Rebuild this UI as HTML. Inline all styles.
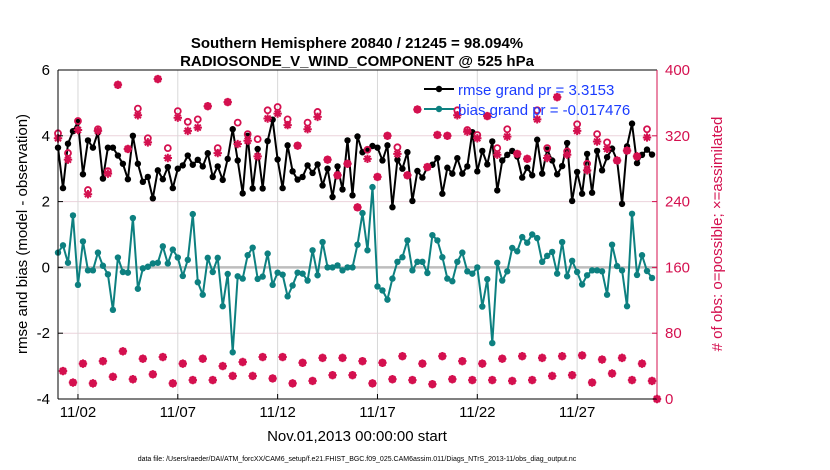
<!DOCTYPE html>
<html><head><meta charset="utf-8"><style>
html,body{margin:0;padding:0;background:#fff;}
svg{display:block;font-family:"Liberation Sans",Arial,sans-serif;}
</style></head><body>
<svg id="chart" width="830" height="470" viewBox="0 0 830 470" xmlns="http://www.w3.org/2000/svg">
<text x="357" y="48" text-anchor="middle" font-size="15" font-weight="bold">Southern Hemisphere 20840 / 21245 = 98.094%</text>
<text x="357" y="66" text-anchor="middle" font-size="15" font-weight="bold">RADIOSONDE_V_WIND_COMPONENT @ 525 hPa</text>
<g id="grid"></g>
<g id="marks"></g>
<g id="axes"></g>
<g>
<line x1="424" y1="89" x2="454" y2="89" stroke="#000" stroke-width="2"/><circle cx="439" cy="89" r="3.2" fill="#000"/>
<text x="458" y="95" font-size="15" fill="#1a3cff">rmse grand pr = 3.3153</text>
<line x1="424" y1="109" x2="454" y2="109" stroke="#0d8080" stroke-width="2"/><circle cx="439" cy="109" r="3.2" fill="#0d8080"/>
<text x="458" y="115" font-size="15" fill="#1a3cff">bias grand pr = -0.017476</text>
</g>
<text transform="translate(27,234) rotate(-90)" text-anchor="middle" font-size="15">rmse and bias (model - observation)</text>
<text transform="translate(722,234) rotate(-90)" text-anchor="middle" font-size="15" fill="#d4104f"># of obs: o=possible; ×=assimilated</text>
<text x="357" y="441" text-anchor="middle" font-size="15">Nov.01,2013 00:00:00 start</text>
<text x="357" y="461" text-anchor="middle" font-size="7">data file: /Users/raeder/DAI/ATM_forcXX/CAM6_setup/f.e21.FHIST_BGC.f09_025.CAM6assim.011/Diags_NTrS_2013-11/obs_diag_output.nc</text>
</svg>
<script>
const rmse=[3.64,2.41,3.76,4.14,4.42,2.83,3.86,3.64,4.1,2.7,3.64,3.64,3.4,3.15,2.68,4.0,3.15,2.6,2.75,2.1,2.95,2.68,3.05,2.41,3.0,3.1,3.4,3.12,3.27,3.07,3.47,2.75,3.07,2.66,3.3,4.2,3.25,2.25,4.0,2.4,3.6,2.4,
3.84,4.49,3.28,2.41,3.71,2.92,2.67,2.75,3.1,2.87,3.13,2.49,3.0,2.14,3.07,2.37,3.86,2.19,3.98,3.5,3.57,3.69,3.64,3.25,3.71,1.83,3.27,3.0,3.5,2.02,2.93,2.73,3.05,3.12,3.32,2.24,3.03,2.85,3.32,2.85,
3.07,4.11,2.92,3.54,3.13,3.83,2.34,3.25,3.42,3.54,3.37,2.73,3.03,2.8,3.88,2.85,3.58,3.25,2.83,3.08,3.78,2.02,2.9,2.24,3.45,2.27,3.54,2.95,3.35,3.61,3.25,1.93,3.68,4.37,3.17,3.42,3.58,3.43];
const bias=[0.45,0.67,0.14,1.58,-0.53,0.79,-0.09,-0.09,0.45,0.05,-0.21,-1.29,0.3,-0.14,-0.16,1.5,-0.65,-0.03,0.02,0.12,0.14,0.64,0.12,0.54,0.3,-0.26,0.23,1.62,-0.45,-0.83,0.29,-0.14,0.29,-1.18,-0.2,-2.58,-0.27,-0.34,0.37,0.6,-0.35,-0.28,
0.42,-0.53,-0.16,-0.22,-0.88,-0.55,-0.16,-0.19,-0.4,0.52,-0.24,0.77,0.0,0.0,0.06,-0.09,0.0,0.0,0.69,1.65,0.52,2.44,-0.58,-0.7,-0.98,-0.34,0.17,0.31,0.82,-0.09,0.17,0.17,-0.17,0.98,0.82,0.31,-0.34,-0.42,0.17,0.45,
-0.12,-0.19,0.0,-1.19,-0.36,-2.3,0.14,-0.4,-0.12,0.59,0.49,0.92,0.75,1.0,0.89,0.17,0.35,0.47,-0.19,0.77,-0.27,0.2,-0.14,-0.52,-0.24,-0.09,-0.09,-0.12,-0.83,0.69,0.04,-0.09,-1.18,1.63,-0.23,0.37,-0.11,-0.32];
const obsAssim=[317,34,291,20,327,43,249,19,326,46,274,27,382,58,304,24,345,49,312,30,389,51,293,19,342,43,326,23,330,49,356,23,299,40,361,28,310,45,314,28,295,51,341,25,347,51,333,19,308,44,328,22,343,50,291,29,272,50,286,29,233,46,292,19,270,44,320,24,298,52,272,23,352,43,282,18,321,52,320,24,345,46,325,23,317,43,344,23,297,49,319,22,298,52,292,23,340,50,293,28,367,52,297,29,326,53,278,20,313,48,304,31,290,50,302,23,295,43,318,22,0];
const obsPoss=[323,34,299,20,338,43,254,19,328,46,277,27,382,58,304,24,353,49,317,30,389,51,305,19,350,43,337,23,340,49,356,23,305,40,361,28,336,45,322,28,316,51,351,25,355,51,340,19,308,44,336,22,349,50,291,29,272,50,286,29,233,46,303,19,270,44,320,24,306,52,272,23,352,43,282,18,321,52,320,24,351,46,327,23,321,43,344,23,305,49,328,22,298,52,292,23,351,50,305,28,367,52,301,29,334,53,286,20,322,48,312,31,290,50,302,23,295,43,328,22,0];
const leftTicks=[-4,-2,0,2,4,6];
const rightTicks=[0,80,160,240,320,400];
const dateTicks=[1,6,11,16,21,26];
const dateLabels=["11/02","11/07","11/12","11/17","11/22","11/27"];

const X0=58,X1=657,Y0=70,Y1=399,NS="http://www.w3.org/2000/svg";
const xDay=d=>X0+(X1-X0)*d/30;
const xIdx=i=>xDay(i*0.25);
const yL=v=>Y1-(v+4)/10*(Y1-Y0);
const yR=v=>Y1-v/400*(Y1-Y0);
const RED="#d4104f",TEAL="#0d8080";
function mk(tag,attrs,parent){const e=document.createElementNS(NS,tag);for(const k in attrs)e.setAttribute(k,attrs[k]);parent.appendChild(e);return e;}
const grid=document.getElementById('grid'),marks=document.getElementById('marks'),axes=document.getElementById('axes');

leftTicks.forEach(v=>{
  const g=mk('line',{x1:X0,x2:X1,y1:yL(v),y2:yL(v),stroke:'#ecd3dc','stroke-width':1},grid);
  
  
  const t=mk('text',{x:X0-8,y:yL(v)+5,'text-anchor':'end','font-size':15},axes);t.textContent=v;
  
  
  mk('line',{x1:X0,x2:X0+5,y1:yL(v),y2:yL(v),stroke:'#000'},axes);
});
rightTicks.forEach(v=>{
  const t=mk('text',{x:X1+8,y:yR(v)+5,'font-size':15,fill:RED},axes);t.textContent=v;
  
  
  mk('line',{x1:X1-5,x2:X1,y1:yR(v),y2:yR(v),stroke:RED},axes);
});
dateTicks.forEach((d,k)=>{
  const g=mk('line',{x1:xDay(d),x2:xDay(d),y1:Y0,y2:Y1,stroke:'#d8d8d8','stroke-width':1},grid);
  
  
  const t=mk('text',{x:xDay(d),y:Y1+18,'text-anchor':'middle','font-size':15},axes);t.textContent=dateLabels[k];
  
  
  mk('line',{x1:xDay(d),x2:xDay(d),y1:Y1-5,y2:Y1,stroke:'#000'},axes);
});
// zero line
const z=mk('line',{x1:X0,x2:X1,y1:yL(0),y2:yL(0),stroke:'#bdbdbd','stroke-width':2.5},grid);



function series(vals,color,name){
  const pts=vals.map((v,i)=>xIdx(i).toFixed(1)+','+yL(v).toFixed(1)).join(' ');
  const pl=mk('polyline',{points:pts,fill:'none',stroke:color,'stroke-width':2,'stroke-linejoin':'round'},marks);
  
  
  vals.forEach((v,i)=>{
    const c=mk('circle',{cx:xIdx(i),cy:yL(v),r:3.2,fill:color},marks);
    
    
  });
}
series(rmse,'#000','rmse');
series(bias,TEAL,'bias');

obsPoss.forEach((v,i)=>{
  const c=mk('circle',{cx:xIdx(i),cy:yR(v),r:3,fill:'none',stroke:RED,'stroke-width':1.8},marks);
  
  
});
obsAssim.forEach((v,i)=>{
  const x=xIdx(i),y=yR(v),s=4.2,d=3;
  const p=mk('path',{d:`M${x-s},${y}H${x+s}M${x},${y-s}V${y+s}M${x-d},${y-d}L${x+d},${y+d}M${x-d},${y+d}L${x+d},${y-d}`,stroke:RED,'stroke-width':2,fill:'none'},marks);
  
  
});

// frame
mk('line',{x1:X0,x2:X1,y1:Y0,y2:Y0,stroke:'#000'},axes);
mk('line',{x1:X0,x2:X1,y1:Y1,y2:Y1,stroke:'#000'},axes);
mk('line',{x1:X0,x2:X0,y1:Y0,y2:Y1,stroke:'#000'},axes);
mk('line',{x1:X1,x2:X1,y1:Y0,y2:Y1,stroke:RED},axes);
</script>
</body></html>
